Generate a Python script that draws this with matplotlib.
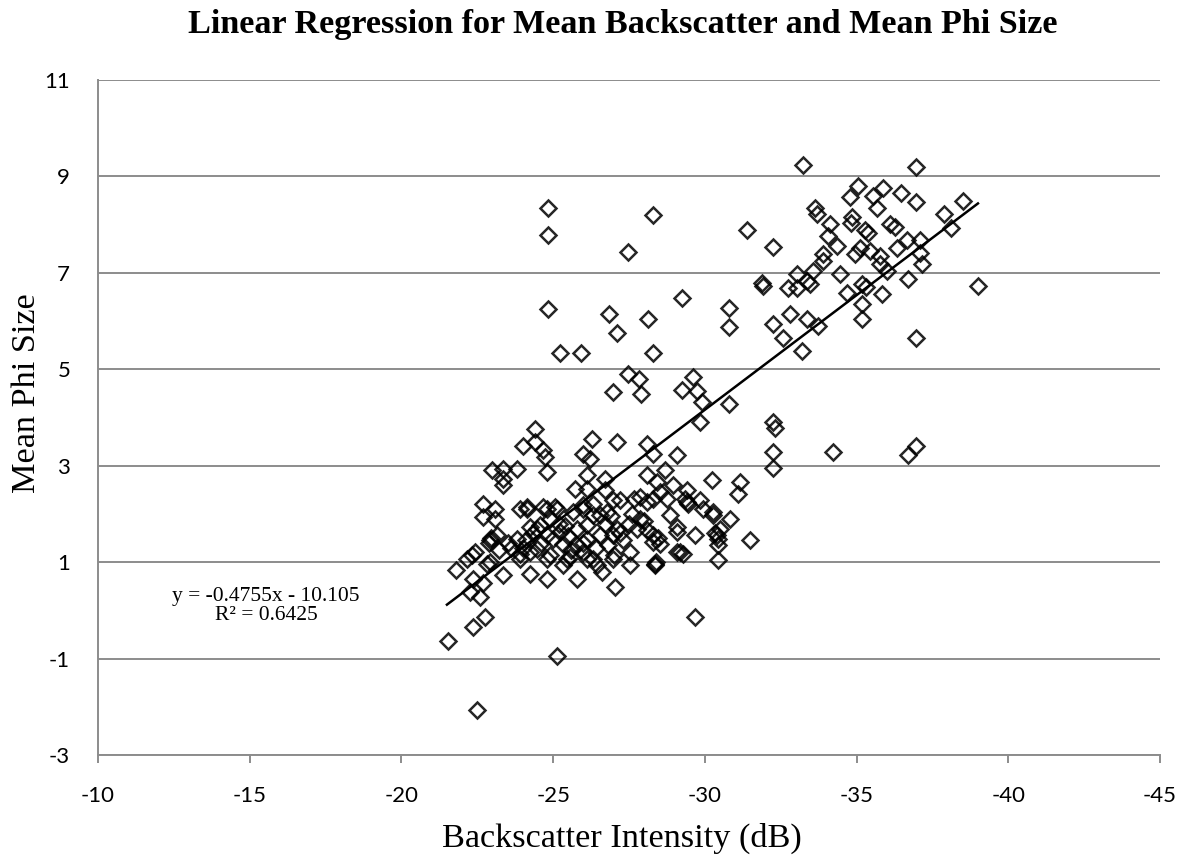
import matplotlib
matplotlib.use("Agg")
import matplotlib.pyplot as plt
import numpy as np

plt.rcParams["axes.unicode_minus"] = False

# Backscatter intensity (dB) and mean phi size
x_vals = [
    -33.24, -36.96, -35.05, -35.87, -34.79, -35.54, -36.47, -36.96, -35.67, -33.63,
    -33.70, -38.51, -37.88, -38.11, -34.13, -34.85, -34.82, -36.10, -36.27, -35.28,
    -35.38, -34.06, -36.66, -37.09, -34.36, -35.12, -36.33, -33.90, -34.95, -35.44,
    -35.77, -37.09, -33.90, -35.77, -37.16, -36.00, -34.46, -33.57, -33.04, -31.88,
    -31.92, -33.37, -32.74, -33.04, -33.46, -35.18, -34.69, -36.70, -35.84, -39.00,
    -35.18, -35.18, -32.80, -32.25, -33.37, -33.73, -32.58, -33.20, -36.96, -32.25,
    -32.30, -32.25, -34.23, -36.96, -36.70, -32.25, -35.30, -31.39, -32.25,
    -24.83, -24.83, -28.29, -27.47, -24.83, -26.84, -27.10, -28.13, -29.25, -30.80,
    -30.80, -25.23, -25.92, -28.29, -27.47, -27.83, -26.97, -27.90, -29.61, -29.25,
    -29.74, -29.90, -30.80,
    -29.84, -24.40, -24.00, -24.40, -24.67, -24.73, -26.28, -27.10, -28.10, -28.29,
    -29.08, -25.99, -26.22, -22.99, -23.35, -23.81, -24.80, -23.35, -23.35, -26.12,
    -26.70, -26.12, -25.72, -26.70, -28.10, -28.69, -28.43, -28.95, -30.24, -31.16,
    -31.09, -29.41, -29.41, -29.35, -29.45, -27.86, -28.29, -27.20, -26.97, -28.52,
    -28.75, -22.69, -23.08, -22.69, -23.08, -23.90, -24.14, -24.80, -25.13, -25.99,
    -25.66, -26.32, -26.55, -25.99, -28.85, -29.94, -30.27, -30.83, -30.50, -30.43,
    -30.43, -30.43, -31.49, -29.68, -29.08, -28.29, -28.52, -29.28, -29.18, -28.36,
    -28.40, -27.53, -26.97, -27.53, -27.10, -26.97, -27.77,
    -29.84, -30.27, -30.40, -30.35, -29.08, -29.08, -28.29, -27.86, -28.10, -27.65,
    -26.77, -28.10, -28.45,
    -24.14, -24.67, -25.06, -22.92, -22.95, -22.88, -23.80, -24.24, -24.57, -24.80,
    -24.47, -23.90, -24.90, -25.33, -25.79, -26.12, -26.12, -26.55, -25.56, -26.12,
    -26.45, -25.33, -25.79, -24.80, -24.24, -23.35, -21.80, -22.16, -22.43, -22.82,
    -22.36, -22.69, -22.26, -22.59, -21.54, -22.36, -22.76, -22.49, -25.13, -29.68,
    -27.04, -28.36, -26.60, -23.15, -25.00, -25.23, -25.79, -24.47, -24.24, -25.99,
    -26.32, -25.46, -24.80, -23.90, -22.92, -22.33, -23.50, -24.10, -24.60, -25.50,
    -25.20, -24.90, -25.60, -26.40, -26.80, -27.30, -27.00, -26.70, -26.30, -27.50,
    -27.60, -28.00, -23.60, -24.35, -25.40, -26.00, -26.90, -27.20, -23.20, -24.00,
]
y_vals = [
    9.23, 9.19, 8.81, 8.77, 8.58, 8.60, 8.65, 8.46, 8.35, 8.35,
    8.23, 8.50, 8.23, 7.94, 8.02, 8.15, 8.04, 8.02, 7.96, 7.88,
    7.83, 7.77, 7.69, 7.69, 7.56, 7.52, 7.52, 7.40, 7.40, 7.46,
    7.35, 7.42, 7.25, 7.19, 7.19, 7.04, 6.98, 7.04, 6.98, 6.79,
    6.72, 6.83, 6.69, 6.69, 6.77, 6.77, 6.58, 6.88, 6.56, 6.73,
    6.35, 6.04, 6.15, 5.94, 6.04, 5.90, 5.65, 5.38, 5.65, 3.90,
    3.78, 3.29, 3.29, 3.40, 3.23, 2.95, 6.70, 7.88, 7.54,
    8.35, 7.79, 8.20, 7.44, 6.25, 6.15, 5.75, 6.04, 6.48, 6.27,
    5.88, 5.33, 5.33, 5.33, 4.90, 4.79, 4.52, 4.48, 4.85, 4.58,
    4.54, 4.33, 4.27,
    3.90, 3.77, 3.40, 3.50, 3.33, 3.19, 3.56, 3.50, 3.46, 3.25,
    3.23, 3.25, 3.13, 2.92, 2.94, 2.94, 2.88, 2.60, 2.73, 2.81,
    2.73, 2.52, 2.52, 2.50, 2.81, 2.92, 2.67, 2.60, 2.71, 2.67,
    2.42, 2.50, 2.25, 2.30, 2.20, 2.35, 2.31, 2.29, 2.29, 2.46,
    2.31, 2.21, 2.10, 1.94, 1.90, 2.10, 2.10, 2.10, 2.10, 2.10,
    2.04, 1.98, 1.98, 2.19, 1.98, 2.10, 1.98, 1.90, 1.69, 1.48,
    1.35, 1.04, 1.46, 1.56, 1.73, 1.56, 1.38, 1.17, 1.21, 0.96,
    1.00, 0.94, 1.06, 1.21, 1.69, 1.56, 1.69,
    2.29, 2.04, 1.56, 1.60, 1.63, 1.21, 1.42, 1.90, 2.25, 2.31,
    2.04, 1.67, 1.50,
    2.15, 2.15, 2.15, 1.46, 1.50, 1.40, 1.48, 1.73, 1.77, 1.56,
    1.27, 1.17, 1.15, 1.38, 1.35, 1.48, 1.77, 1.56, 1.10, 1.06,
    0.94, 0.94, 0.65, 0.65, 0.75, 0.73, 0.83, 1.06, 1.21, 0.96,
    0.65, 0.56, 0.38, 0.27, -0.63, -0.35, -0.13, -2.06, -0.94, -0.13,
    0.48, 0.94, 0.79, 1.56, 1.48, 1.63, 1.69, 1.69, 1.21, 1.21,
    1.06, 1.06, 1.06, 1.06, 1.00, 1.15, 1.40, 1.45, 1.40, 1.55,
    1.80, 1.90, 1.25, 1.30, 1.35, 1.45, 1.15, 1.80, 2.20, 1.80,
    2.00, 1.85, 1.30, 1.60, 1.75, 1.40, 1.95, 1.60, 1.25, 1.30,
]

# Trendline reported in the chart
slope = -0.4755
intercept = -10.105
r_squared = 0.6425
trend_x = [-21.5, -39.0]

x_ticks = [-10, -15, -20, -25, -30, -35, -40, -45]
y_ticks = [-3, -1, 1, 3, 5, 7, 9, 11]

title = "Linear Regression for Mean Backscatter and Mean Phi Size"
x_label = "Backscatter Intensity (dB)"
y_label = "Mean Phi Size"

W, H = 1184, 861
fig = plt.figure(figsize=(W / 100, H / 100), dpi=100)
ax = fig.add_axes([98 / W, 1 - 755 / H, (1160 - 98) / W, (755 - 80) / H])

grid_col = "#8c8c8c"
ax.set_xlim(-10, -45)
ax.set_ylim(-3, 11)
ax.set_xticks(x_ticks)
ax.set_yticks(y_ticks)
ax.yaxis.grid(True, color=grid_col, linewidth=1.4)
ax.set_axisbelow(True)
for s in ["top", "right"]:
    ax.spines[s].set_visible(False)
for s in ["left", "bottom"]:
    ax.spines[s].set_color(grid_col)
    ax.spines[s].set_linewidth(1.4)
ax.tick_params(axis="x", direction="out", length=6, width=1.4, color=grid_col, pad=16)
ax.tick_params(axis="y", length=0, pad=20)
for lab in ax.get_xticklabels() + ax.get_yticklabels():
    lab.set_fontfamily("Lato")
    lab.set_fontsize(16)
    lab.set_color("black")

ax.plot(x_vals, y_vals, linestyle="none", marker="D", markersize=8,
        markerfacecolor="none", markeredgecolor="black", markeredgewidth=1.8,
        alpha=0.85)

tx = np.array(trend_x)
ax.plot(tx, slope * tx + intercept, color="black", linewidth=1.8)

fig.text(266 / W, 1 - 606 / H, f"y = {slope}x - {abs(intercept)}\nR² = {r_squared}",
         ha="center", va="center", fontfamily="Liberation Serif", fontsize=15.5,
         linespacing=1.05)

fig.text(623 / W, 1 - 33 / H, title, ha="center", va="baseline",
         fontfamily="Liberation Serif", fontweight="bold", fontsize=24.6)
fig.text(622 / W, 1 - 847 / H, x_label, ha="center", va="baseline",
         fontfamily="Liberation Serif", fontsize=24.7)
fig.text(35 / W, 1 - 393 / H, y_label, ha="center", va="baseline", rotation=90,
         rotation_mode="anchor", fontfamily="Liberation Serif", fontsize=24.7)

fig.savefig("out.png", dpi=100)
